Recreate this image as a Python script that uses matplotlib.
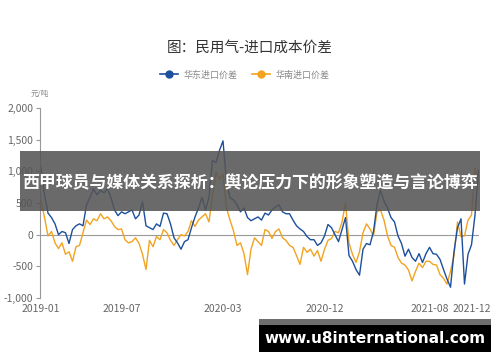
import matplotlib.pyplot as plt
from matplotlib.lines import Line2D
from matplotlib.patches import Rectangle

plt.rcParams["font.family"] = ["Noto Sans CJK SC", "DejaVu Sans"]

# ---------------------------------------------------------------------------
# Data (元/吨), evenly spaced samples
# ---------------------------------------------------------------------------

east_spread = [  # 华东进口价差
    1060, 630, 340, 270, 170, 0, 50, 30, -140, 80,
    140, 170, 140, 470, 590, 720, 630, 700, 660, 730,
    580, 390, 300, 360, 330, 360, 390, 250, 310, 520,
    140, 110, 80, 170, 130, 340, 330, 170, -50, -130,
    -230, -110, -80, 110, 280, 420, 590, 390, 590, 1170,
    1140, 1330, 1480, 830, 580, 550, 470, 360, 420, 270,
    220, 250, 280, 230, 340, 310, 390, 440, 470, 360,
    330, 330, 230, 140, 90, 50, -30, -80, -80, -170,
    -130, -20, 160, 110, 0, -110, 80, 270, -330, -420,
    -550, -640, -230, -140, -160, 50, 470, 700, 530, 420,
    270, 200, -20, -140, -340, -230, -360, -420, -300, -440,
    -300, -200, -300, -310, -390, -550, -700, -830, -270, 110,
    250, -780, -310, -160, 310, 1020,
]
south_spread = [  # 华南进口价差
    550, 270, -20, 50, -130, -220, -130, -310, -270, -420,
    -190, -170, 30, 230, 160, 250, 220, 330, 250, 280,
    220, 130, 80, 90, -80, -130, -110, -50, -140, -310,
    -550, -90, -190, -30, -80, 80, 30, -90, -170, -80,
    0, -20, 50, 220, 130, 230, 280, 330, 200, 630,
    980, 880, 950, 420, 230, 60, -170, -130, -300, -630,
    -230, -50, -110, -170, 80, 50, -60, 50, 90, -50,
    -90, -170, -200, -330, -470, -200, -280, -230, -340, -250,
    -420, -230, -90, -60, 50, 30, 200, 500, -130, -310,
    -440, -270, 30, 170, 90, -20, 360, 390, 230, -20,
    -170, -200, -360, -450, -480, -560, -730, -580, -450, -520,
    -420, -420, -470, -480, -630, -690, -780, -580, -330, 200,
    -30, -20, 230, 310, 1050, 860,
]
tick_index  = [0, 23, 52, 81, 111, 123]
tick_labels = ["2019-01", "2019-07", "2020-03", "2020-12", "2021-08", "2021-12"]
y_ticks     = [-1000, -500, 0, 500, 1000, 1500, 2000]

BLUE   = "#1c4f9c"
ORANGE = "#f2a31f"
GREY   = "#666666"

# ---------------------------------------------------------------------------
# Plot
# ---------------------------------------------------------------------------

fig = plt.figure(figsize=(5.0, 3.62), dpi=100)
ax = fig.add_axes([0.082, 0.1768, 0.875, 0.525])

x = range(len(east_spread))
ax.plot(x, south_spread, color=ORANGE, linewidth=1.0)
ax.plot(x, east_spread, color=BLUE, linewidth=1.0)
ax.axhline(0, color="#999999", linewidth=0.8, zorder=0)

ax.set_xlim(0, 125)
ax.set_ylim(-1000, 2000)
ax.set_yticks(y_ticks)
ax.set_yticklabels([f"{v:,}" for v in y_ticks])
ax.set_xticks(tick_index)
ax.set_xticklabels(tick_labels)
ax.tick_params(axis="y", labelsize=7.5, labelcolor=GREY, color="#999999",
               length=3, width=0.8, pad=1.5)
ax.tick_params(axis="x", labelsize=7.5, labelcolor=GREY, length=0, pad=4)
for side in ("top", "right", "bottom"):
    ax.spines[side].set_visible(False)
ax.spines["left"].set_color("#999999")
ax.spines["left"].set_linewidth(0.8)
ax.spines["left"].set_position(("outward", 1))

fig.text(0.5, 1 - 48 / 362, "图：民用气-进口成本价差", ha="center", va="center",
         fontsize=10.5, color="#333333")
fig.text(0.08, 1 - 94 / 362, "元/吨", ha="center", va="center",
         fontsize=5.5, color="#888888")

handles = [
    Line2D([], [], color=BLUE, marker="o", markersize=5, linewidth=1.2),
    Line2D([], [], color=ORANGE, marker="o", markersize=5, linewidth=1.2),
]
leg = fig.legend(handles, ["华东进口价差", "华南进口价差"], loc="center",
                 bbox_to_anchor=(0.49, 1 - 75 / 362), ncol=2, frameon=False,
                 fontsize=6.5, handlelength=2.0, columnspacing=1.6,
                 handletextpad=0.6)
for t in leg.get_texts():
    t.set_color("#888888")

# overlay banner
fig.patches.append(Rectangle((20 / 500, 1 - 211 / 362), 460 / 500, 60 / 362,
                             transform=fig.transFigure, facecolor="#555555",
                             alpha=0.88, edgecolor="none", zorder=5))
fig.text(0.5, 1 - 183 / 362, "西甲球员与媒体关系探析：舆论压力下的形象塑造与言论博弈",
         ha="center", va="center", fontsize=12.2, fontweight="bold",
         color="white", zorder=6)

# url box
fig.patches.append(Rectangle((259 / 500, 1 - 325 / 362), 232 / 500, 6 / 362,
                             transform=fig.transFigure, facecolor="#6e6e6e",
                             edgecolor="none", zorder=5))
fig.patches.append(Rectangle((259 / 500, 1 - 352 / 362), 232 / 500, 27 / 362,
                             transform=fig.transFigure, facecolor="black",
                             edgecolor="none", zorder=5))
fig.text(375 / 500, 1 - 338.5 / 362, "www.u8international.com", ha="center",
         va="center", fontsize=11, fontweight="bold", color="white",
         family="DejaVu Sans", zorder=6)

fig.savefig("out.png", dpi=100)
plt.close(fig)
